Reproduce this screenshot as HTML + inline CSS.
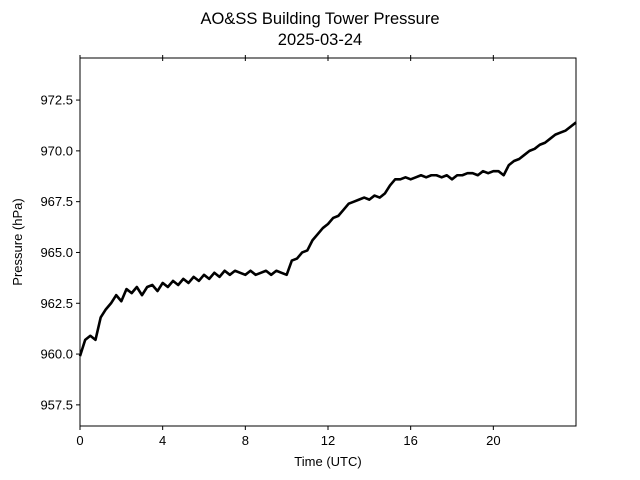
<!DOCTYPE html>
<html><head><meta charset="utf-8"><style>
body{margin:0;background:#fff;}
svg{display:block;font-family:"Liberation Sans","DejaVu Sans",sans-serif;}
</style></head><body>
<svg id="chart" width="640" height="480" viewBox="0 0 640 480" xmlns="http://www.w3.org/2000/svg">
<rect width="640" height="480" fill="#fff"/>
<text x="320" y="24" text-anchor="middle" font-size="16.5">AO&amp;SS Building Tower Pressure</text>
<text x="320" y="45" text-anchor="middle" font-size="16.5">2025-03-24</text>
<g id="axes"></g>
<text x="328" y="466" text-anchor="middle" font-size="13">Time (UTC)</text>
<text x="22" y="242" text-anchor="middle" font-size="13" transform="rotate(-90 22 242)">Pressure (hPa)</text>
</svg>
<script>
const hours = [0,0.25,0.5,0.75,1,1.25,1.5,1.75,2,2.25,2.5,2.75,3,3.25,3.5,3.75,4,4.25,4.5,4.75,5,5.25,5.5,5.75,6,6.25,6.5,6.75,7,7.25,7.5,7.75,8,8.25,8.5,8.75,9,9.25,9.5,9.75,10,10.25,10.5,10.75,11,11.25,11.5,11.75,12,12.25,12.5,12.75,13,13.25,13.5,13.75,14,14.25,14.5,14.75,15,15.25,15.5,15.75,16,16.25,16.5,16.75,17,17.25,17.5,17.75,18,18.25,18.5,18.75,19,19.25,19.5,19.75,20,20.25,20.5,20.75,21,21.25,21.5,21.75,22,22.25,22.5,22.75,23,23.25,23.5,23.75,24];
const pressure = [959.9,960.7,960.9,960.7,961.8,962.2,962.5,962.9,962.6,963.2,963.0,963.3,962.9,963.3,963.4,963.1,963.5,963.3,963.6,963.4,963.7,963.5,963.8,963.6,963.9,963.7,964.0,963.8,964.1,963.9,964.1,964.0,963.9,964.1,963.9,964.0,964.1,963.9,964.1,964.0,963.9,964.6,964.7,965.0,965.1,965.6,965.9,966.2,966.4,966.7,966.8,967.1,967.4,967.5,967.6,967.7,967.6,967.8,967.7,967.9,968.3,968.6,968.6,968.7,968.6,968.7,968.8,968.7,968.8,968.8,968.7,968.8,968.6,968.8,968.8,968.9,968.9,968.8,969.0,968.9,969.0,969.0,968.8,969.3,969.5,969.6,969.8,970.0,970.1,970.3,970.4,970.6,970.8,970.9,971.0,971.2,971.4];
const xTicks = [0,4,8,12,16,20];
const yTicks = [957.5,960.0,962.5,965.0,967.5,970.0,972.5];

const L=80,R=576,T=58,B=426,xMin=0,xMax=24,yMin=956.46,yMax=974.57;
const sx=v=>L+(v-xMin)/(xMax-xMin)*(R-L);
const sy=v=>B-(v-yMin)/(yMax-yMin)*(B-T);
const NS="http://www.w3.org/2000/svg";
const g=document.getElementById('axes');
function mk(tag,attrs){const e=document.createElementNS(NS,tag);for(const k in attrs)e.setAttribute(k,attrs[k]);g.appendChild(e);return e;}

let d='';
hours.forEach((h,i)=>{d+=(i?'L':'M')+sx(h).toFixed(2)+' '+sy(pressure[i]).toFixed(2);});
const line=mk('path',{d:d,fill:'none',stroke:'#000','stroke-width':2.6,'stroke-linejoin':'round'});



xTicks.forEach(t=>{
  const x=sx(t);
  const tk=mk('line',{x1:x,x2:x,y1:B,y2:B+4,stroke:'#000','stroke-width':1});
  
  
  const tt=mk('line',{x1:x,x2:x,y1:T-3,y2:T+3,stroke:'#000','stroke-width':1});
  
  
  const lb=mk('text',{x:x,y:B+19,'text-anchor':'middle','font-size':13});
  lb.textContent=String(t);
  
  
});
yTicks.forEach(t=>{
  const y=sy(t);
  const tk=mk('line',{x1:L-4,x2:L,y1:y,y2:y,stroke:'#000','stroke-width':1});
  
  
  const lb=mk('text',{x:L-7,y:y+4.5,'text-anchor':'end','font-size':13});
  lb.textContent=t.toFixed(1);
  
  
});
const frame=mk('rect',{x:L,y:T,width:R-L,height:B-T,fill:'none',stroke:'#000','stroke-width':1});


</script>
</body></html>
